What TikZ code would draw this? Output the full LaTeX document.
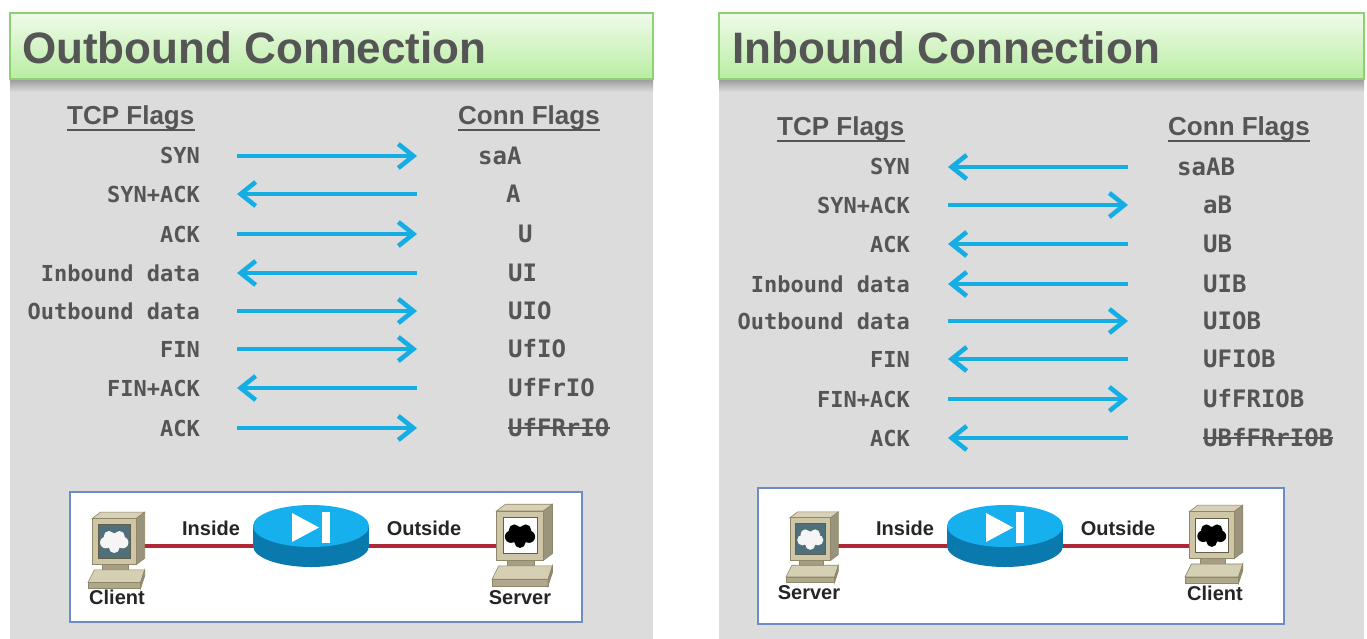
\documentclass[tikz,border=0pt]{standalone}
\usepackage{fontspec}
\setmainfont{Liberation Sans}
\newfontfamily\monof{DejaVu Sans Mono}
\usetikzlibrary{arrows.meta}
\definecolor{txt}{HTML}{555555}
\definecolor{lbl}{HTML}{252525}
\definecolor{panel}{HTML}{DCDCDC}
\definecolor{arr}{HTML}{14ADE4}
\definecolor{hdrtop}{HTML}{F0FBEA}
\definecolor{hdrbot}{HTML}{B9EDA2}
\definecolor{hdrline}{HTML}{8FD077}
\definecolor{boxline}{HTML}{6C8CC8}
\definecolor{wire}{HTML}{B02838}
\definecolor{rtop}{HTML}{16B0EE}
\definecolor{rside}{HTML}{0A7AAE}
\definecolor{pcbody}{HTML}{CEC6A6}
\definecolor{pcedge}{HTML}{8E8768}
\definecolor{pcscreen}{HTML}{4F707A}
\newcommand\pcicon[5]{%
\begin{scope}[shift={(#1,#2)},scale=#3,line width=0.6pt]
\filldraw[draw=pcedge, fill=pcbody!80!white] (4,8) -- (12,2) -- (54,2) -- (46,8) -- cycle;
\filldraw[draw=pcedge, fill=pcbody!75!black] (46,8) -- (54,2) -- (54,46) -- (46,52) -- cycle;
\filldraw[draw=pcedge, fill=pcbody] (4,8) rectangle (46,52);
\filldraw[draw=pcedge!70!black, fill=#4] (10,14) rectangle (40,46);
\fill[#5] (25,30) circle (8pt) (17,31) circle (5.5pt) (33,31) circle (5.5pt) (20,25) circle (5pt) (30,25) circle (5pt) (25,36) circle (5pt);
\filldraw[draw=pcedge, fill=pcbody!80!black] (14,52) rectangle (38,57);
\filldraw[draw=pcedge, fill=pcbody!85!white] (6,57) -- (54,57) -- (50,69) -- (0,69) -- cycle;
\filldraw[draw=pcedge, fill=pcbody!85!black] (0,69) rectangle (50,75);
\filldraw[draw=pcedge, fill=pcbody!70!black] (50,69) -- (54,57) -- (54,63) -- (50,75) -- cycle;
\end{scope}}
\newcommand\routericon[2]{%
\fill[rside] (#1-58,#2) rectangle (#1+58,#2+20);
\fill[rside] (#1,#2+20) ellipse [x radius=58pt, y radius=21pt];
\fill[rtop] (#1,#2) ellipse [x radius=58pt, y radius=21pt];
\fill[white] (#1-19,#2-13) -- (#1-19,#2+16) -- (#1+8,#2+1.5) -- cycle;
\fill[white] (#1+11,#2-14) rectangle (#1+19,#2+17);
}
\begin{document}
\begin{tikzpicture}[x=1pt,y=-1pt,
  hdr/.style={top color=hdrtop, bottom color=hdrbot, draw=hdrline, line width=1.5pt},
  title/.style={anchor=west, inner sep=0, font={\fontsize{44}{48}\selectfont\bfseries}, text=txt},
  colhead/.style={anchor=base west, inner sep=0, font={\fontsize{26}{30}\selectfont\bfseries}, text=txt},
  tcp/.style={anchor=east, inner sep=0, font={\monof\fontsize{22}{24}\selectfont\bfseries}, text=txt, text height=16pt, text depth=0pt},
  conn/.style={anchor=west, inner sep=0, font={\monof\fontsize{24}{26}\selectfont\bfseries}, text=txt, text height=17.5pt, text depth=0pt},
  flow/.style={draw=arr, line width=3.4pt},
  fwd/.style={-{Straight Barb[length=15pt,width=24pt,line width=4.6pt]}},
  bwd/.style={{Straight Barb[length=15pt,width=24pt,line width=4.6pt]}-},
  netbox/.style={draw=boxline, line width=1.6pt, fill=white},
  wireline/.style={draw=wire, line width=4pt},
  netlbl/.style={inner sep=0, font={\fontsize{20}{22}\selectfont\bfseries}, text=lbl},
  uline/.style={draw=txt, line width=1.8pt},
  strike/.style={draw=txt, line width=1.3pt}]
\useasboundingbox (0,0) rectangle (1367,639);
\fill[white] (0,0) rectangle (1367,639);
% panels
\fill[panel] (10,79) rectangle (653,639);
\fill[panel] (719,79) rectangle (1364,639);
\shade[top color=black!30!panel, bottom color=panel] (10,79) rectangle (653,92);
\shade[top color=black!30!panel, bottom color=panel] (719,79) rectangle (1364,92);
\path[hdr] (10,13) rectangle (653,79);
\path[hdr] (719,13) rectangle (1364,79);
\node[title] (tOut) at (22,48) {Outbound Connection};
\node[title] (tIn) at (732,48) {Inbound Connection};
% column heads
\node[colhead] (hTL) at (67,125) {TCP Flags};
\node[colhead] (hCL) at (458,125) {Conn Flags};
\node[colhead] (hTR) at (777,136) {TCP Flags};
\node[colhead] (hCR) at (1168,136) {Conn Flags};
\foreach \h in {hTL,hCL,hTR,hCR}
  \draw[uline] ([yshift=-5pt]\h.base west) -- ([yshift=-5pt]\h.base east);
% left rows
\foreach \i/\y/\t/\c/\cx/\d in {
1/156/SYN/saA/478/fwd,
2/194/SYN+ACK/A/506/bwd,
3/234/ACK/U/518/fwd,
4/273/Inbound data/UI/508/bwd,
5/311/Outbound data/UIO/508/fwd,
6/349/FIN/UfIO/508/fwd,
7/388/FIN+ACK/UfFrIO/508/bwd,
8/428/ACK/UfFRrIO/508/fwd}{
  \node[tcp] (lt\i) at (200,\y) {\t};
  \node[conn] (lc\i) at (\cx,\y) {\c};
  \coordinate (la\i) at (237,\y);
  \coordinate (lb\i) at (417,\y);
  \draw[flow,\d] (la\i) -- (lb\i);
}
\draw[strike] (lc8.west) -- (lc8.east);
% right rows
\foreach \i/\y/\t/\c/\cx/\d in {
1/167/SYN/saAB/1177/bwd,
2/205/SYN+ACK/aB/1203/fwd,
3/244/ACK/UB/1203/bwd,
4/284/Inbound data/UIB/1203/bwd,
5/321/Outbound data/UIOB/1203/fwd,
6/359/FIN/UFIOB/1203/bwd,
7/399/FIN+ACK/UfFRIOB/1203/fwd,
8/438/ACK/UBfFRrIOB/1203/bwd}{
  \node[tcp] (rt\i) at (910,\y) {\t};
  \node[conn] (rc\i) at (\cx,\y) {\c};
  \coordinate (ra\i) at (948,\y);
  \coordinate (rb\i) at (1128,\y);
  \draw[flow,\d] (ra\i) -- (rb\i);
}
\draw[strike] (rc8.west) -- (rc8.east);
% network boxes
\path[netbox] (70,492) rectangle (582,622);
\path[netbox] (758,488) rectangle (1284,624);
% left network
\coordinate (pcL) at (118,546);
\coordinate (rtL) at (311,546);
\coordinate (svL) at (524,546);
\draw[wireline] (pcL) -- (rtL);
\draw[wireline] (rtL) -- (svL);
\pcicon{88}{510}{1.05}{pcscreen}{white!92!gray}
\pcicon{492}{502}{1.12}{white}{black}
\routericon{311}{526}
\node[netlbl] (inL) at (211,528) {Inside};
\node[netlbl] (outL) at (424,528) {Outside};
\node[netlbl] (clL) at (117,597) {Client};
\node[netlbl] (srL) at (520,598) {Server};
% right network
\coordinate (pcR) at (810,546);
\coordinate (rtR) at (1005,546);
\coordinate (svR) at (1215,546);
\draw[wireline] (pcR) -- (rtR);
\draw[wireline] (rtR) -- (svR);
\pcicon{786}{510}{0.97}{pcscreen}{white!92!gray}
\pcicon{1185}{503}{1.07}{white}{black}
\routericon{1005}{526}
\node[netlbl] (inR) at (905,528) {Inside};
\node[netlbl] (outR) at (1118,528) {Outside};
\node[netlbl] (srR) at (809,593) {Server};
\node[netlbl] (clR) at (1215,593) {Client};
\end{tikzpicture}
\end{document}
